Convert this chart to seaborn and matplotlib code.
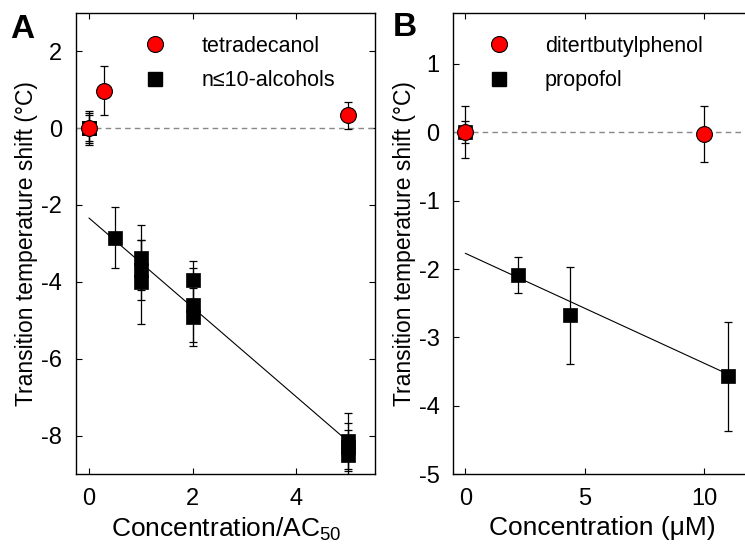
import numpy as np
import pandas as pd
import matplotlib
matplotlib.use('Agg')
import matplotlib.pyplot as plt
import seaborn as sns

# panel A: concentration / AC50
tetra_x = [0, 0.3, 5]
tetra_y = [0, 0.97, 0.33]
tetra_err = [0.4, 0.63, 0.35]

alc_x = [0, 0, 0.5, 1, 1, 1, 2, 2, 2, 5, 5, 5]
alc_y = [0, 0, -2.85, -3.37, -3.7, -4.0, -3.95, -4.6, -4.92, -8.14, -8.3, -8.5]
alc_err = [0.44, 0.33, 0.8, 0.85, 0.78, 1.1, 0.5, 0.96, 0.75, 0.73, 0.62, 0.65]

fitA_x = [0, 5]
fitA_y = [-2.34, -8.15]

# panel B: concentration in uM
dtbp_x = [0, 10]
dtbp_y = [0, -0.02]
dtbp_err = [0.38, 0.41]

prop_x = [0, 2.2, 4.4, 11]
prop_y = [0, -2.09, -2.68, -3.57]
prop_err = [0.16, 0.26, 0.71, 0.8]

fitB_x = [0, 11]
fitB_y = [-1.77, -3.54]

sns.set_style('ticks')
plt.rcParams['font.family'] = ['Liberation Sans', 'DejaVu Sans']
plt.rcParams['mathtext.fontset'] = 'custom'
plt.rcParams['mathtext.rm'] = 'Liberation Sans'
plt.rcParams['mathtext.it'] = 'Liberation Sans'
plt.rcParams['axes.unicode_minus'] = False
plt.rcParams['text.color'] = 'black'
plt.rcParams['axes.labelcolor'] = 'black'
plt.rcParams['xtick.color'] = 'black'
plt.rcParams['ytick.color'] = 'black'

fig = plt.figure(figsize=(7.45, 5.5), dpi=100)
axA = fig.add_axes([0.102, 0.138, 0.402, 0.839])
axB = fig.add_axes([0.6085, 0.138, 0.401, 0.839])


def panel(ax, red, black, fit, labels, leg_x):
    ax.axhline(0, color='#888888', ls=(0, (4, 3)), lw=1, zorder=1)
    sns.lineplot(x=fit[0], y=fit[1], ax=ax, color='black', lw=0.8, zorder=2)
    ax.errorbar(black[0], black[1], yerr=black[2], fmt='none', ecolor='black',
                elinewidth=0.9, capsize=3, capthick=0.9, zorder=3)
    sns.scatterplot(x=black[0], y=black[1], ax=ax, marker='s', s=95,
                    color='black', edgecolor='black', linewidth=0.5, zorder=4)
    ax.errorbar(red[0], red[1], yerr=red[2], fmt='none', ecolor='black',
                elinewidth=0.9, capsize=3, capthick=0.9, zorder=5)
    sns.scatterplot(x=red[0], y=red[1], ax=ax, marker='o', s=130,
                    color='red', edgecolor='black', linewidth=0.8, zorder=6)
    h1 = plt.Line2D([], [], ls='none', marker='o', ms=11.5, mfc='red', mec='black', mew=0.8)
    h2 = plt.Line2D([], [], ls='none', marker='s', ms=9.5, mfc='black', mec='black')
    ax.legend([h1, h2], labels, loc='upper left', bbox_to_anchor=(leg_x, 0.95),
              frameon=False, fontsize=15.5, handlelength=1.5, handletextpad=1.4,
              labelspacing=0.62, borderpad=0, borderaxespad=0, numpoints=1)
    ax.tick_params(direction='in', top=True, right=True, length=4, width=0.8,
                   labelsize=17, pad=10)
    for s in ax.spines.values():
        s.set_linewidth(1)
        s.set_color('black')
    ax.set_ylabel('Transition temperature shift (°C)', fontsize=16.5, labelpad=2)


panel(axA, (tetra_x, tetra_y, tetra_err), (alc_x, alc_y, alc_err), (fitA_x, fitA_y),
      ['tetradecanol', 'n≤10-alcohols'], 0.21)
axA.set_xlim(-0.25, 5.53)
axA.set_ylim(-9, 3)
axA.set_xticks([0, 2, 4])
axA.set_yticks([2, 0, -2, -4, -6, -8])
axA.set_xlabel('Concentration/AC$_{50}$', fontsize=19, labelpad=4)

panel(axB, (dtbp_x, dtbp_y, dtbp_err), (prop_x, prop_y, prop_err), (fitB_x, fitB_y),
      ['ditertbutylphenol', 'propofol'], 0.098)
axB.set_xlim(-0.5, 12)
axB.set_ylim(-5, 1.75)
axB.set_xticks([0, 5, 10])
axB.set_yticks([1, 0, -1, -2, -3, -4, -5])
axB.set_xlabel('Concentration (μM)', fontsize=19, labelpad=4)

fig.text(0.014, 0.975, 'A', fontsize=24, fontweight='bold', va='top')
fig.text(0.527, 0.978, 'B', fontsize=24, fontweight='bold', va='top')

fig.savefig('out.png', dpi=100)
